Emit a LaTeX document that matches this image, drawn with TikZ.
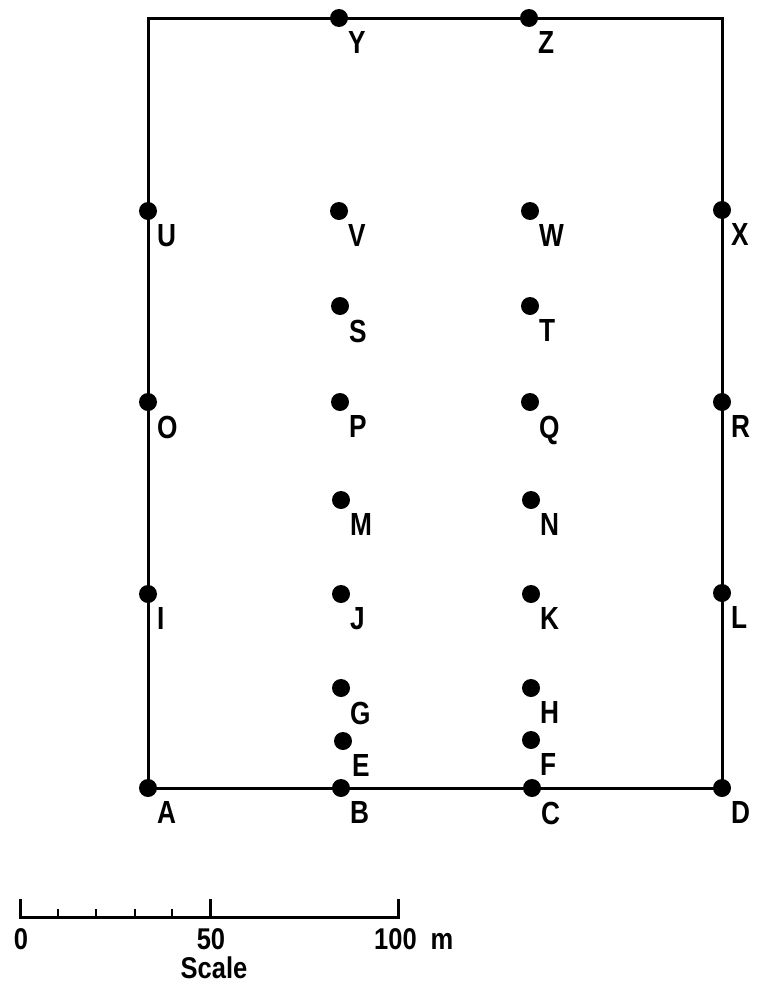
\documentclass[tikz,border=0pt]{standalone}
\usepackage{fontspec}
\setmainfont{Liberation Sans}
\usepackage{tikz}

\begin{document}
\begin{tikzpicture}[
  x=1pt, y=-1pt,
  lbl/.style={inner sep=0pt, xscale=.82, font=\fontsize{32}{38}\selectfont\bfseries, xshift=3pt, yshift=-7pt},
  stn/.style={circle, fill=black, inner sep=0pt, minimum size=18pt, label={[lbl]below right:#1}},
  txt/.style={inner sep=0pt, xscale=.85, font=\fontsize{30}{36}\selectfont\bfseries},
]
\useasboundingbox (0,0) rectangle (758,988);

% Top edge
\node[stn=Y] (Y) at (339,18) {};
\node[stn=Z] (Z) at (529,18) {};

% Rows of stations
\node[stn=U] (U) at (148,211) {};
\node[stn=V] (V) at (339,211) {};
\node[stn=W] (W) at (530,211) {};
\node[stn=X] (X) at (722,210) {};

\node[stn=S] (S) at (340,306) {};
\node[stn=T] (T) at (530,306) {};

\node[stn=O] (O) at (148,402) {};
\node[stn=P] (P) at (340,402) {};
\node[stn=Q] (Q) at (530,402) {};
\node[stn=R] (R) at (722,402) {};

\node[stn=M] (M) at (341,500) {};
\node[stn=N] (N) at (531,500) {};

\node[stn=I] (I) at (148,594) {};
\node[stn=J] (J) at (341,594) {};
\node[stn=K] (K) at (531,594) {};
\node[stn=L] (L) at (722,593) {};

\node[stn=G] (G) at (341,688) {};
\node[stn=H] (H) at (531,688) {};

\node[stn=E] (E) at (343,741) {};
\node[stn=F] (F) at (531,740) {};

% Bottom edge
\node[stn=A] (A) at (148,788) {};
\node[stn=B] (B) at (341,788) {};
\node[stn=C] (C) at (532,788) {};
\node[stn=D] (D) at (722,788) {};

% Boundary
\draw[line width=3pt, line join=miter] (A.center) -- (D.center) -- (D.center |- Z.center) -- (A.center |- Y.center) -- cycle;

% Scale bar
\draw[line width=3pt] (20,899) -- (20,917) -- (398,917) -- (398,899);
\draw[line width=3pt] (210,899) -- (210,917);
\draw[line width=2.5pt] (58,909) -- (58,917);
\draw[line width=2.5pt] (96,909) -- (96,917);
\draw[line width=2.5pt] (135,909) -- (135,917);
\draw[line width=2.5pt] (172,909) -- (172,917);
\node[txt] (s0) at (21,939) {0};
\node[txt] (s50) at (211,939) {50};
\node[txt, anchor=west] (s100) at (374,939) {100\hspace{8pt} m};
\node[txt] (scl) at (214,968) {Scale};
\end{tikzpicture}
\end{document}
